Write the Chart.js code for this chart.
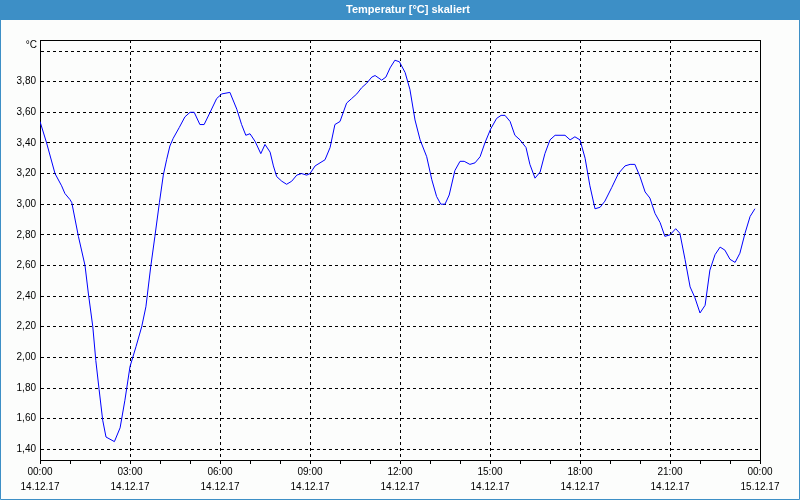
<!DOCTYPE html>
<html>
<head>
<meta charset="utf-8">
<script src="https://cdn.jsdelivr.net/npm/chart.js@4/dist/chart.umd.min.js"></script>
<style>
html,body{margin:0;padding:0;background:#fcfdfc;}
#wrap{width:800px;height:500px;position:relative;}
</style>
</head>
<body>
<div id="wrap"><canvas id="c" width="800" height="500"></canvas></div>
<script>
const chartTitle = 'Temperatur [°C] skaliert';
const unitLabel = '°C';
const dayLabels = ['14.12.17','14.12.17','14.12.17','14.12.17','14.12.17','14.12.17','14.12.17','14.12.17','15.12.17'];
const timeLabels = ['00:00','03:00','06:00','09:00','12:00','15:00','18:00','21:00','00:00'];

const hours = [0.0,0.22,0.5,0.72,0.83,1.0,1.06,1.28,1.5,1.61,1.76,1.86,1.97,2.09,2.2,2.48,2.67,2.83,3.0,3.2,3.39,3.53,3.69,3.83,3.98,4.11,4.22,4.33,4.44,4.64,4.83,5.0,5.14,5.33,5.47,5.67,5.89,6.06,6.33,6.56,6.72,6.86,7.0,7.17,7.36,7.5,7.67,7.78,7.89,8.06,8.22,8.39,8.56,8.72,8.89,9.0,9.17,9.5,9.67,9.83,10.0,10.22,10.39,10.56,10.72,10.89,11.06,11.17,11.39,11.53,11.67,11.83,11.98,12.17,12.33,12.5,12.67,12.89,13.06,13.22,13.36,13.5,13.64,13.83,14.0,14.14,14.33,14.5,14.67,14.83,15.02,15.22,15.37,15.5,15.67,15.83,16.0,16.2,16.33,16.5,16.67,16.83,17.0,17.17,17.5,17.67,17.83,18.0,18.17,18.33,18.5,18.67,18.83,19.06,19.28,19.5,19.67,19.83,20.0,20.17,20.33,20.5,20.67,20.83,21.0,21.19,21.33,21.5,21.67,21.83,22.0,22.17,22.33,22.5,22.67,22.83,23.0,23.17,23.33,23.5,23.67,23.83];
const temps = [3.54,3.40,3.20,3.12,3.07,3.03,3.01,2.79,2.60,2.42,2.20,1.98,1.79,1.59,1.48,1.45,1.54,1.72,1.94,2.07,2.20,2.33,2.59,2.79,3.01,3.19,3.29,3.38,3.43,3.50,3.57,3.60,3.60,3.52,3.52,3.60,3.69,3.72,3.73,3.62,3.52,3.45,3.46,3.41,3.33,3.39,3.34,3.25,3.18,3.15,3.13,3.15,3.19,3.20,3.19,3.20,3.25,3.29,3.37,3.52,3.54,3.66,3.69,3.72,3.76,3.79,3.83,3.84,3.81,3.83,3.89,3.94,3.93,3.86,3.75,3.55,3.42,3.31,3.16,3.05,3.00,3.00,3.06,3.22,3.28,3.28,3.26,3.27,3.31,3.40,3.49,3.56,3.58,3.58,3.54,3.45,3.42,3.37,3.26,3.17,3.21,3.33,3.42,3.45,3.45,3.42,3.44,3.42,3.30,3.12,2.97,2.98,3.02,3.11,3.20,3.25,3.26,3.26,3.18,3.08,3.04,2.94,2.88,2.79,2.80,2.84,2.81,2.64,2.46,2.39,2.29,2.34,2.57,2.67,2.72,2.70,2.64,2.62,2.68,2.81,2.92,2.97];

const FONT = 'Tahoma, "Liberation Sans", Arial, sans-serif';

const decor = {
  id: 'decor',
  beforeDraw(chart) {
    const ctx = chart.ctx;
    ctx.save();
    ctx.fillStyle = '#fcfdfc';
    ctx.fillRect(0, 0, 800, 500);
    ctx.fillStyle = '#3d8fc6';
    ctx.fillRect(0, 0, 800, 20);
    ctx.strokeStyle = '#3d8fc6';
    ctx.lineWidth = 1;
    ctx.beginPath();
    ctx.moveTo(0.5, 20); ctx.lineTo(0.5, 499.5); ctx.lineTo(799.5, 499.5); ctx.lineTo(799.5, 20);
    ctx.stroke();
    ctx.fillStyle = '#ffffff';
    ctx.font = 'bold 11px ' + FONT;
    ctx.textAlign = 'center';
    ctx.textBaseline = 'middle';
    ctx.fillText(chartTitle, 408, 10);
    ctx.restore();
  },
  afterDraw(chart) {
    const ctx = chart.ctx;
    const a = chart.chartArea;
    ctx.save();
    ctx.strokeStyle = '#000';
    ctx.lineWidth = 1;
    ctx.beginPath();
    ctx.moveTo(Math.round(a.left) + 0.5, Math.round(a.top) + 0.5);
    ctx.lineTo(Math.round(a.right) + 0.5, Math.round(a.top) + 0.5);
    ctx.lineTo(Math.round(a.right) + 0.5, Math.round(a.bottom) + 0.5);
    ctx.stroke();
    ctx.fillStyle = '#000';
    ctx.font = '10px ' + FONT;
    ctx.textAlign = 'right';
    ctx.textBaseline = 'middle';
    ctx.fillText(unitLabel, 37, 45);
    ctx.restore();
  }
};

new Chart(document.getElementById('c'), {
  type: 'line',
  data: {
    datasets: [{
      data: hours.map((h, i) => ({x: h, y: temps[i]})),
      borderColor: '#0000ff',
      borderWidth: 1,
      pointRadius: 0,
      tension: 0,
      fill: false
    }]
  },
  options: {
    responsive: false,
    animation: false,
    events: [],
    layout: {padding: {left: 0, top: 40, right: 40, bottom: 0}},
    plugins: {legend: {display: false}, tooltip: {enabled: false}, title: {display: false}},
    scales: {
      x: {
        type: 'linear',
        min: 0, max: 24,
        afterFit(s) { s.height = 40; },
        ticks: {
          stepSize: 1,
          autoSkip: false,
          maxRotation: 0,
          color: '#000',
          padding: 1,
          font: {family: FONT, size: 10, lineHeight: '15px'},
          callback(v) {
            if (Math.abs(v % 3) < 1e-6) { const k = Math.round(v / 3); return [timeLabels[k], dayLabels[k]]; }
            return '';
          }
        },
        grid: {
          drawTicks: true,
          tickLength: 4,
          tickColor: '#000',
          color: (c) => (c.tick && Math.abs(c.tick.value % 3) < 1e-6) ? '#000' : 'rgba(0,0,0,0)',
          lineWidth: 1
        },
        border: {display: true, color: '#000', width: 1, dash: [3, 3]}
      },
      y: {
        type: 'linear',
        min: 1.33, max: 4.072,
        afterFit(s) { s.width = 40; },
        ticks: {
          stepSize: 0.2,
          includeBounds: false,
          color: '#000',
          padding: 4,
          font: {family: FONT, size: 10},
          callback(v) {
            if (Math.abs(v - 4) < 1e-6) return '';
            return v.toFixed(2).replace('.', ',');
          }
        },
        grid: {drawTicks: false, color: '#000', lineWidth: 1},
        border: {display: true, color: '#000', width: 1, dash: [3, 3]}
      }
    }
  },
  plugins: [decor]
});
</script>
</body>
</html>
